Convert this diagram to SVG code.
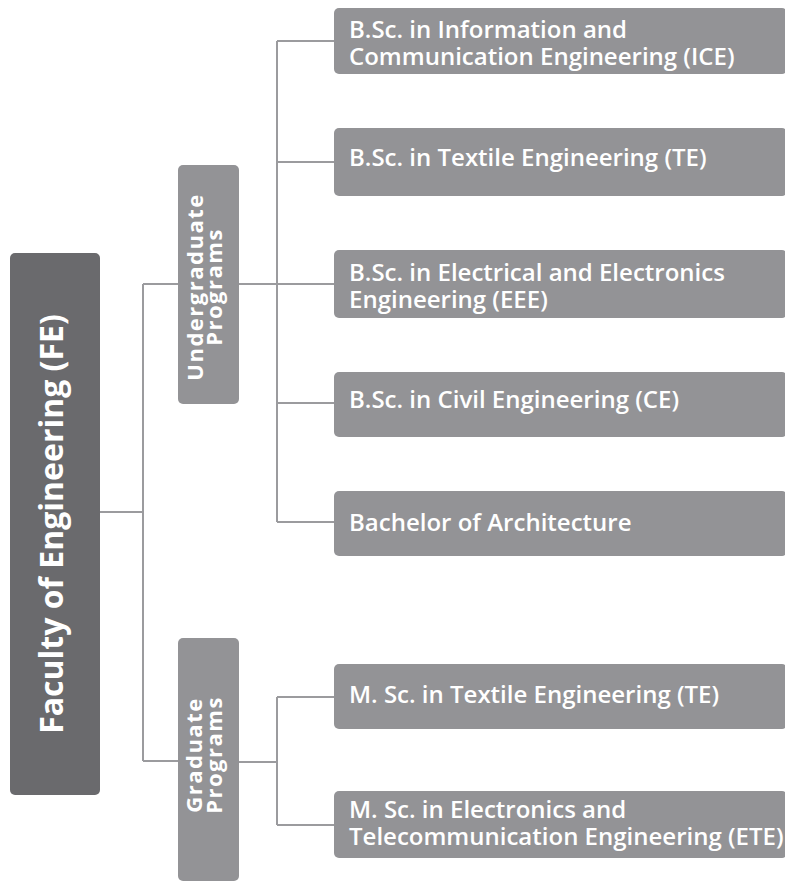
<svg xmlns="http://www.w3.org/2000/svg" width="785" height="882" viewBox="0 0 785 882">
<style>
.main{fill:#6a6a6d}
.box{fill:#939396}
.conn{fill:none;stroke:#9b9b9e;stroke-width:2}
.t{font-family:"Open Sans","Noto Sans",sans-serif;fill:#ffffff;font-variant-ligatures:none}
.tm{font-size:32px;font-weight:700}
.ts{font-size:22px;font-weight:700;letter-spacing:1.5px}
.tb{font-size:24px;font-weight:600}
</style>
<rect width="785" height="882" fill="#ffffff"/>
<g id="connectors">
<path class="conn" d="M100,512 H143 M143,284 V761 M143,284 H178 M143,761 H178"/>
<path class="conn" d="M239,284 H277 M277,41 V522 M277,41 H334 M277,162 H334 M277,284 H334 M277,403 H334 M277,522 H334"/>
<path class="conn" d="M239,762 H277 M277,697 V825 M277,697 H334 M277,825 H334"/>
</g>
<g id="faculty">
<rect class="main" x="10" y="253" width="90" height="542" rx="5"/>
<text class="t tm" text-anchor="middle" transform="translate(63,524) rotate(-90)">Faculty of Engineering (FE)</text>
</g>
<g id="undergraduate">
<rect class="box" x="178" y="165" width="61" height="239" rx="5"/>
<text class="t ts" text-anchor="middle" transform="translate(203,287) rotate(-90)">Undergraduate</text>
<text class="t ts" text-anchor="middle" transform="translate(222,287) rotate(-90)">Programs</text>
</g>
<g id="graduate">
<rect class="box" x="178" y="638" width="61" height="243" rx="5"/>
<text class="t ts" text-anchor="middle" transform="translate(202,755) rotate(-90)">Graduate</text>
<text class="t ts" text-anchor="middle" transform="translate(222,755) rotate(-90)">Programs</text>
</g>
<g id="ice">
<rect class="box" x="334" y="8" width="453" height="66" rx="5"/>
<text class="t tb" x="349" y="38">B.Sc. in Information and</text>
<text class="t tb" x="349" y="65">Communication Engineering (ICE)</text>
</g>
<g id="te">
<rect class="box" x="334" y="128" width="453" height="68" rx="5"/>
<text class="t tb" x="349" y="166">B.Sc. in Textile Engineering (TE)</text>
</g>
<g id="eee">
<rect class="box" x="334" y="250" width="453" height="68" rx="5"/>
<text class="t tb" x="349" y="281">B.Sc. in Electrical and Electronics</text>
<text class="t tb" x="349" y="308">Engineering (EEE)</text>
</g>
<g id="ce">
<rect class="box" x="334" y="372" width="453" height="65" rx="5"/>
<text class="t tb" x="349" y="408">B.Sc. in Civil Engineering (CE)</text>
</g>
<g id="barch">
<rect class="box" x="334" y="491" width="453" height="65" rx="5"/>
<text class="t tb" x="349" y="531">Bachelor of Architecture</text>
</g>
<g id="mte">
<rect class="box" x="334" y="664" width="453" height="65" rx="5"/>
<text class="t tb" x="349" y="703">M. Sc. in Textile Engineering (TE)</text>
</g>
<g id="mete">
<rect class="box" x="334" y="791" width="453" height="67" rx="5"/>
<text class="t tb" x="349" y="818">M. Sc. in Electronics and</text>
<text class="t tb" x="349" y="845">Telecommunication Engineering (ETE)</text>
</g>
</svg>
